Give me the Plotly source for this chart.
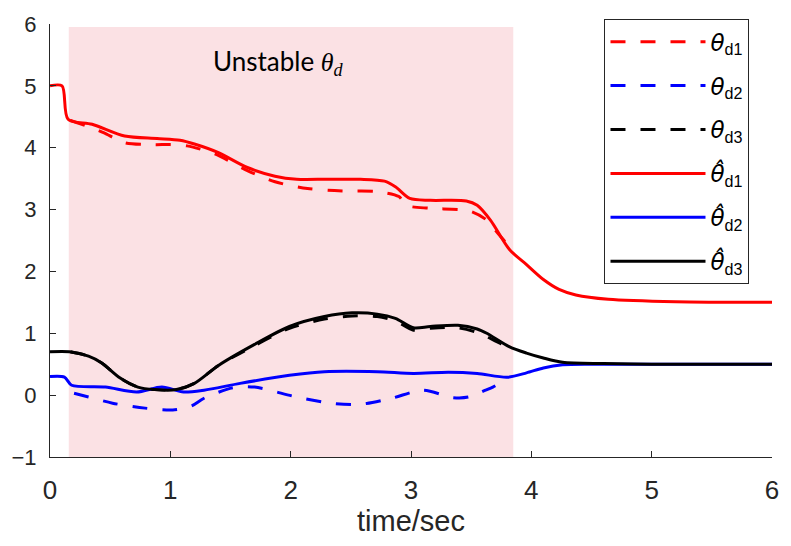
import plotly.graph_objects as go

# ---- data ----
unstable_start = 0.156
unstable_end = 3.85
unstable_top = 5.95

t_d1 = [0.17, 0.35, 0.45, 0.62, 0.86, 1.0, 1.14, 1.37, 1.64, 1.87, 2.14, 2.43, 2.72, 2.9, 2.96, 3.16, 3.48, 3.63, 3.72, 3.85]
v_d1 = [4.44, 4.32, 4.24, 4.08, 4.05, 4.05, 4.03, 3.9, 3.63, 3.45, 3.34, 3.3, 3.29, 3.21, 3.07, 3.02, 2.98, 2.83, 2.62, 2.33]

t_d2 = [0.2, 0.32, 0.52, 0.79, 1.02, 1.17, 1.28, 1.52, 1.7, 2.05, 2.33, 2.57, 2.84, 3.1, 3.35, 3.48, 3.62, 3.68, 3.8]
v_d2 = [0.03, -0.03, -0.13, -0.21, -0.24, -0.18, -0.05, 0.12, 0.13, -0.03, -0.13, -0.15, -0.05, 0.08, -0.04, -0.03, 0.08, 0.13, 0.27]

t_d3 = [0.17, 0.32, 0.43, 0.58, 0.73, 0.87, 1.05, 1.2, 1.4, 1.7, 1.99, 2.28, 2.51, 2.72, 2.87, 3.02, 3.16, 3.39, 3.57, 3.75, 3.85]
v_d3 = [0.7, 0.63, 0.52, 0.28, 0.13, 0.09, 0.09, 0.19, 0.48, 0.8, 1.08, 1.23, 1.28, 1.27, 1.2, 1.05, 1.08, 1.09, 1.0, 0.83, 0.77]

t_h1 = [0, 0.1, 0.15, 0.35, 0.62, 0.89, 1.08, 1.2, 1.4, 1.64, 1.87, 2.05, 2.3, 2.58, 2.78, 2.87, 2.99, 3.16, 3.46, 3.55, 3.66, 3.82, 3.96, 4.1, 4.23, 4.37, 4.64, 5.2, 6.0]
v_h1 = [5.0, 5.0, 4.46, 4.38, 4.19, 4.15, 4.12, 4.06, 3.92, 3.68, 3.54, 3.49, 3.49, 3.49, 3.46, 3.37, 3.18, 3.15, 3.14, 3.07, 2.83, 2.35, 2.11, 1.87, 1.71, 1.62, 1.55, 1.51, 1.5]

t_h2 = [0, 0.12, 0.18, 0.46, 0.72, 0.93, 1.11, 1.28, 1.58, 1.99, 2.28, 2.72, 3.02, 3.31, 3.55, 3.8, 3.96, 4.1, 4.26, 4.5, 5.0, 6.0]
v_h2 = [0.3, 0.29, 0.16, 0.13, 0.05, 0.13, 0.05, 0.08, 0.19, 0.32, 0.38, 0.38, 0.35, 0.37, 0.35, 0.29, 0.36, 0.44, 0.49, 0.5, 0.5, 0.5]

t_h3 = [0, 0.16, 0.32, 0.43, 0.58, 0.73, 0.87, 1.05, 1.2, 1.4, 1.7, 1.99, 2.28, 2.51, 2.72, 2.87, 3.02, 3.16, 3.39, 3.55, 3.63, 3.82, 3.96, 4.1, 4.26, 4.6, 5.0, 6.0]
v_h3 = [0.7, 0.7, 0.63, 0.52, 0.28, 0.13, 0.09, 0.09, 0.19, 0.48, 0.82, 1.11, 1.27, 1.33, 1.31, 1.24, 1.09, 1.11, 1.13, 1.07, 1.0, 0.78, 0.68, 0.6, 0.53, 0.51, 0.5, 0.5]

x_ticks = [0, 1, 2, 3, 4, 5, 6]
y_ticks = [-1, 0, 1, 2, 3, 4, 5, 6]

SANS = 'Liberation Sans Narrow, Liberation Sans, Arial, sans-serif'


def lab(hat, k):
    th = 'θ\u0302' if hat else 'θ'
    th = '<span style="font-family:DejaVu Sans"><i>%s</i></span>' % th
    return th + '<sub><span style="font-family:Liberation Sans">d%d</span></sub>' % k


series = [
    (t_d1, v_d1, lab(False, 1), '#FF0000', '15px,15px'),
    (t_d2, v_d2, lab(False, 2), '#0000FF', '15px,15px'),
    (t_d3, v_d3, lab(False, 3), '#000000', '15px,15px'),
    (t_h1, v_h1, lab(True, 1), '#FF0000', 'solid'),
    (t_h2, v_h2, lab(True, 2), '#0000FF', 'solid'),
    (t_h3, v_h3, lab(True, 3), '#000000', 'solid'),
]

fig = go.Figure()
for i, (t, v, name, col, dash) in enumerate(series):
    fig.add_trace(go.Scatter(
        x=t, y=v, name=name, mode='lines', legendgroup=f'g{i}',
        line=dict(color=col, width=3, dash=dash, shape='spline', smoothing=0.8),
    ))

fig.add_shape(type='rect', xref='x', yref='y', x0=unstable_start, x1=unstable_end,
              y0=-1, y1=unstable_top, fillcolor='#FBE1E4', line=dict(width=0), layer='below')

fig.add_annotation(x=1.9, y=5.37, xref='x', yref='y', showarrow=False,
                   text='Unstable <span style="font-family:Liberation Serif"><i>θ<sub>d</sub></i></span>',
                   font=dict(family='Lato', size=26, color='black'))

axis_common = dict(showgrid=False, zeroline=False, showline=True, linecolor='#262626', linewidth=1,
                   ticks='inside', ticklen=6, tickcolor='#262626', mirror=False)

fig.update_layout(
    width=791, height=546,
    margin=dict(l=48, r=13, t=19, b=89),
    plot_bgcolor='white', paper_bgcolor='white',
    xaxis=dict(range=[0, 6], tickvals=x_ticks, ticklabelstandoff=10,
               tickfont=dict(family=SANS, size=26, color='#262626'),
               title=dict(text='time/sec', font=dict(family=SANS, size=29, color='#262626'), standoff=6),
               **axis_common),
    yaxis=dict(range=[-1, 6], tickvals=y_ticks, ticklabelstandoff=8,
               tickfont=dict(family=SANS, size=22, color='#262626'), **axis_common),
    legend=dict(x=0.768, y=1.011, xanchor='left', yanchor='top', bgcolor='white',
                bordercolor='#262626', borderwidth=1, tracegroupgap=11, itemwidth=95,
                maxheight=400,
                font=dict(family='Liberation Serif', size=23, color='black')),
    showlegend=True,
)

fig.write_html('out.html')
